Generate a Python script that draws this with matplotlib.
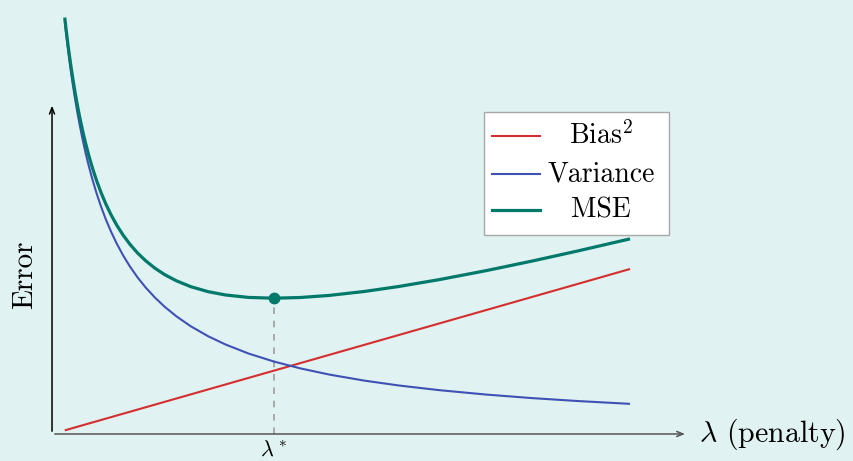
import matplotlib
matplotlib.use("Agg")
import matplotlib.pyplot as plt
from matplotlib.patches import Rectangle
from matplotlib.lines import Line2D

# values (lambda on the x axis, error on the y axis)
lam = [0.22, 0.24, 0.26, 0.28, 0.30, 0.33, 0.36, 0.40, 0.44, 0.48,
       0.53, 0.58, 0.64, 0.70, 0.77, 0.85, 0.93, 1.02, 1.12, 1.23,
       1.35, 1.48, 1.62, 1.78, 1.95, 2.15, 2.40, 2.70, 3.00, 3.40,
       3.84, 4.30, 4.80, 5.40, 6.00, 6.70, 7.50, 8.30, 9.10, 10.0]
bias2 = [0.066, 0.072, 0.078, 0.084, 0.090, 0.099, 0.108, 0.120, 0.132, 0.144,
         0.159, 0.174, 0.192, 0.210, 0.231, 0.255, 0.279, 0.306, 0.336, 0.369,
         0.405, 0.444, 0.486, 0.534, 0.585, 0.645, 0.720, 0.810, 0.900, 1.020,
         1.152, 1.290, 1.440, 1.620, 1.800, 2.010, 2.250, 2.490, 2.730, 3.000]
variance = [7.506, 7.316, 7.136, 6.964, 6.800, 6.568, 6.352, 6.084, 5.838, 5.612,
            5.352, 5.115, 4.857, 4.624, 4.379, 4.129, 3.905, 3.682, 3.461, 3.247,
            3.042, 2.847, 2.664, 2.481, 2.312, 2.141, 1.959, 1.778, 1.628, 1.463,
            1.317, 1.192, 1.080, 0.971, 0.882, 0.797, 0.718, 0.653, 0.599, 0.548]
mse = [7.572, 7.388, 7.214, 7.048, 6.890, 6.667, 6.460, 6.204, 5.970, 5.756,
       5.511, 5.289, 5.049, 4.834, 4.610, 4.384, 4.184, 3.988, 3.797, 3.616,
       3.447, 3.291, 3.150, 3.015, 2.897, 2.786, 2.679, 2.588, 2.528, 2.483,
       2.469, 2.482, 2.520, 2.591, 2.682, 2.807, 2.968, 3.143, 3.329, 3.548]
lam_star, mse_star = 3.84, 2.469
series_names = ["Bias$^2$", "Variance", "MSE"]

BG = "#e0f2f1"
RED, BLUE, GREEN = "#d32f2f", "#3f51b5", "#00796b"

plt.rcParams["font.family"] = "cmr10"
plt.rcParams["mathtext.fontset"] = "cm"
plt.rcParams["axes.formatter.use_mathtext"] = True

fig = plt.figure(figsize=(8.54, 4.61), dpi=100, facecolor=BG)
ax = fig.add_axes([0, 0, 1, 1])
ax.set_facecolor(BG)
ax.set_xlim(-0.90, 13.875)
ax.set_ylim(-0.491, 7.891)
ax.axis("off")

# axes with arrow tips
ax.annotate("", xy=(11.0, 0), xytext=(0, 0),
            arrowprops=dict(arrowstyle="->,head_length=0.45,head_width=0.18", color="#555555", lw=1.1))
ax.annotate("", xy=(0, 6.02), xytext=(0, 0),
            arrowprops=dict(arrowstyle="->,head_length=0.45,head_width=0.18", color="black", lw=1.1))

line_kw = dict(solid_capstyle="butt", solid_joinstyle="round")
ax.plot(lam, bias2, color=RED, lw=1.5, **line_kw)
ax.plot(lam, variance, color=BLUE, lw=1.5, **line_kw)
ax.plot(lam, mse, color=GREEN, lw=2.3, **line_kw)

ax.plot([lam_star, lam_star], [0, mse_star], color="#9e9e9e", lw=1.2, ls=(0, (4, 4)), zorder=1)
ax.plot([lam_star], [mse_star], "o", color=GREEN, ms=7.5, zorder=5)

# lambda* sits at the very bottom edge, kept just inside the canvas
ax.text(lam_star, -0.47, r"$\lambda^*$", ha="center", va="bottom", fontsize=16)
ax.text(11.2, 0, r"$\lambda$ (penalty)", ha="left", va="center", fontsize=21.5)
ax.text(-0.47, 2.9, "Error", rotation=90, ha="center", va="center", fontsize=21)

# legend box drawn by hand so labels sit centred like the reference
tr = ax.transAxes
ax.add_patch(Rectangle((484 / 854, 1 - 235 / 461), 185 / 854, 123 / 461, transform=tr,
                       facecolor="white", edgecolor="#a8a8a8", lw=1.0, zorder=6))
rows = [(136, RED, 1.5), (174, BLUE, 1.5), (210, GREEN, 2.3)]
for name, (py, col, lw) in zip(series_names, rows):
    y = 1 - py / 461
    ax.add_line(Line2D([492 / 854, 540 / 854], [y, y], transform=tr, color=col, lw=lw, zorder=7))
    ax.text(601 / 854, y, name, transform=tr, ha="center", va="center", fontsize=20, zorder=7)

fig.savefig("out.png", dpi=100, facecolor=BG)
